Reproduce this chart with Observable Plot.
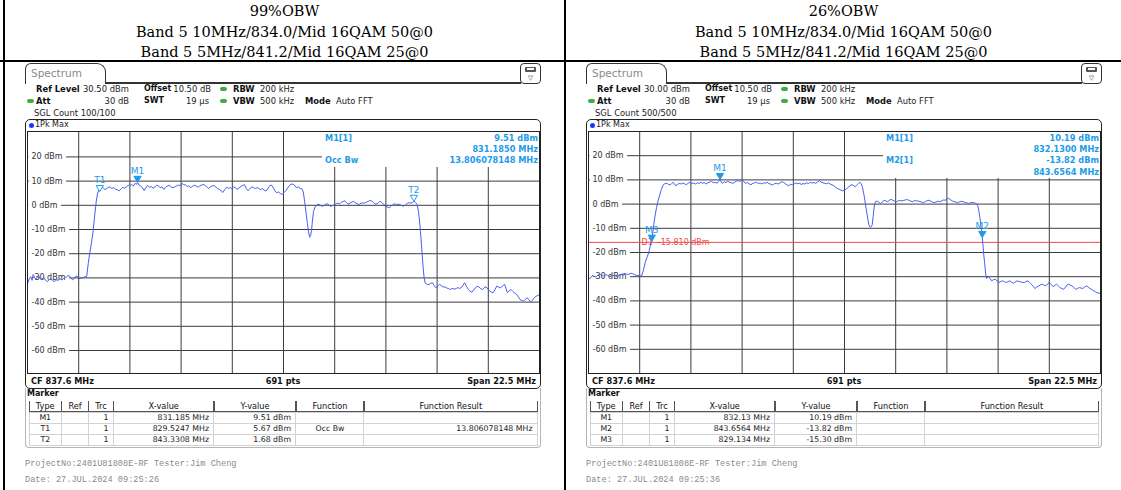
<!DOCTYPE html>
<html><head><meta charset="utf-8">
<script src="https://cdn.jsdelivr.net/npm/d3@7"></script>
<script src="https://cdn.jsdelivr.net/npm/@observablehq/plot@0.6"></script>
<style>
html,body{margin:0;padding:0;background:#fff;}
#page{position:relative;width:1121px;height:490px;overflow:hidden;font-family:"DejaVu Sans",sans-serif;}
.a{position:absolute;white-space:nowrap;box-sizing:border-box;}
</style></head>
<body><div id="page"></div>
<script>
// ---------- data ----------
const titles = ["99%OBW", "26%OBW"];
const subtitle1 = "Band 5 10MHz/834.0/Mid 16QAM 50@0";
const subtitle2 = "Band 5 5MHz/841.2/Mid 16QAM 25@0";
const refLevels = [30.5, 30.0];
const refLevelText = ["30.50 dBm", "30.00 dBm"];
const sglCounts = ["100/100", "500/500"];
const dates = ["Date: 27.JUL.2024  09:25:26", "Date: 27.JUL.2024  09:25:36"];
const projectLine = "ProjectNo:2401U81808E-RF Tester:Jim Cheng";
const freqStart = 826.35, freqStop = 848.85; // CF 837.6 MHz, span 22.5 MHz
const freqGrid = [828.6, 830.85, 833.1, 835.35, 837.6, 839.85, 842.1, 844.35, 846.6];
const levelTicks = [20, 10, 0, -10, -20, -30, -40, -50, -60];

const trace99 = [[826.35,-32.5],[826.42,-30.5],[826.49,-29.5],[826.55,-31.0],[826.6,-28.6],[826.66,-29.8],[826.71,-30.5],[826.78,-29.6],[826.84,-29.0],[826.9,-30.2],[826.96,-30.8],[827.02,-30.0],[827.07,-29.9],[827.15,-31.0],[827.23,-31.5],[827.31,-30.6],[827.39,-30.3],[827.47,-31.2],[827.55,-31.5],[827.62,-30.8],[827.7,-31.0],[827.78,-30.3],[827.86,-30.8],[827.94,-30.2],[828.02,-29.9],[828.1,-29.3],[828.18,-29.0],[828.26,-30.0],[828.33,-30.8],[828.41,-30.2],[828.49,-29.2],[828.57,-29.6],[828.65,-30.4],[828.72,-30.0],[828.8,-29.9],[828.87,-29.5],[828.95,-29.5],[829.02,-24],[829.09,-19.5],[829.16,-15.5],[829.23,-11],[829.3,-4.5],[829.37,1.5],[829.43,5.0],[829.5,6.5],[829.56,8.0],[829.62,7.6],[829.7,7.0],[829.76,6.5],[829.83,6.9],[829.9,7.4],[829.98,7.6],[830.05,7.0],[830.14,7.3],[830.22,6.6],[830.3,6.4],[830.38,6.0],[830.46,6.8],[830.53,7.4],[830.61,7.1],[830.7,7.7],[830.78,8.3],[830.85,8.1],[830.93,8.6],[831.0,8.0],[831.08,9.1],[831.13,8.6],[831.185,9.5],[831.25,8.4],[831.32,8.0],[831.4,7.2],[831.48,6.1],[831.56,7.5],[831.64,8.2],[831.72,7.4],[831.8,7.8],[831.87,7.0],[831.95,7.6],[832.02,8.3],[832.1,8.0],[832.18,7.3],[832.26,7.6],[832.34,6.6],[832.42,7.5],[832.5,8.0],[832.58,8.3],[832.66,7.6],[832.74,7.3],[832.82,7.6],[832.9,8.0],[832.98,8.4],[833.05,8.0],[833.13,9.0],[833.21,8.6],[833.29,8.4],[833.37,7.8],[833.44,8.1],[833.52,7.3],[833.6,7.8],[833.68,8.3],[833.76,8.0],[833.84,7.5],[833.92,8.0],[834.0,8.4],[834.1,8.6],[834.18,8.0],[834.25,7.4],[834.31,7.0],[834.39,7.7],[834.47,8.0],[834.55,8.2],[834.63,7.5],[834.7,7.0],[834.78,6.6],[834.86,6.0],[834.94,5.3],[835.02,6.5],[835.1,7.5],[835.18,7.0],[835.26,7.3],[835.33,6.9],[835.41,7.6],[835.49,7.2],[835.57,6.6],[835.65,7.2],[835.73,7.8],[835.81,8.2],[835.89,8.5],[835.96,7.0],[836.04,6.0],[836.12,6.8],[836.2,7.6],[836.28,7.4],[836.36,6.9],[836.44,7.3],[836.51,7.0],[836.59,6.5],[836.67,6.9],[836.75,6.3],[836.83,5.9],[836.91,6.8],[836.98,7.9],[837.06,8.4],[837.14,7.5],[837.22,6.0],[837.3,5.2],[837.38,5.5],[837.46,4.9],[837.54,4.5],[837.62,5.2],[837.7,6.0],[837.78,7.1],[837.85,8.0],[837.93,8.8],[838.01,8.7],[838.09,8.3],[838.17,7.3],[838.25,7.6],[838.33,7.0],[838.41,6.8],[838.47,5.5],[838.53,1.5],[838.59,-3],[838.65,-7.5],[838.7,-11],[838.75,-13.2],[838.79,-12.5],[838.83,-10.5],[838.87,-6.5],[838.92,-2.5],[838.98,-0.8],[839.03,-0.4],[839.1,0.5],[839.19,0.3],[839.27,-0.4],[839.35,-0.2],[839.43,0.2],[839.5,0.7],[839.58,0.3],[839.66,-0.5],[839.74,-0.1],[839.82,0.0],[839.9,0.6],[839.98,0.9],[840.06,0.6],[840.14,1.2],[840.22,1.6],[840.29,1.9],[840.37,1.0],[840.45,0.5],[840.53,0.9],[840.61,1.4],[840.68,1.6],[840.76,1.0],[840.84,0.6],[840.92,0.3],[841.0,0.8],[841.08,1.0],[841.16,0.9],[841.24,1.3],[841.32,1.6],[841.39,2.0],[841.47,1.8],[841.55,1.2],[841.63,0.5],[841.71,0.6],[841.78,1.2],[841.86,1.6],[841.94,1.0],[842.02,0.2],[842.1,-0.4],[842.18,-0.8],[842.26,-1.0],[842.33,-0.4],[842.41,0.4],[842.49,0.6],[842.57,0.3],[842.65,0.5],[842.73,0.2],[842.81,-0.2],[842.88,-0.4],[842.96,0.2],[843.04,0.8],[843.12,1.1],[843.2,0.9],[843.28,1.2],[843.33,1.7],[843.4,1.2],[843.47,0.4],[843.53,-2.5],[843.58,-6.5],[843.62,-11],[843.66,-16],[843.7,-21],[843.74,-26],[843.78,-30],[843.83,-32.2],[843.91,-32.6],[843.99,-32.8],[844.07,-32.2],[844.15,-32.0],[844.22,-33.2],[844.3,-34.1],[844.38,-33.3],[844.46,-32.7],[844.54,-33.2],[844.62,-33.8],[844.7,-33.7],[844.78,-34.2],[844.85,-34.4],[844.93,-34.8],[845.01,-34.3],[845.09,-34.6],[845.17,-34.5],[845.25,-34.0],[845.33,-34.3],[845.41,-34.1],[845.49,-33.0],[845.56,-32.0],[845.64,-33.5],[845.72,-34.8],[845.8,-35.5],[845.88,-35.9],[845.96,-35.0],[846.03,-34.1],[846.11,-33.5],[846.19,-33.7],[846.27,-34.5],[846.35,-34.8],[846.42,-34.0],[846.5,-33.7],[846.58,-34.6],[846.66,-35.4],[846.74,-35.9],[846.81,-36.1],[846.89,-34.9],[846.97,-33.4],[847.05,-33.8],[847.13,-34.1],[847.21,-33.5],[847.28,-32.9],[847.32,-32.7],[847.38,-34.5],[847.44,-36.1],[847.52,-35.3],[847.6,-34.8],[847.68,-35.6],[847.76,-36.3],[847.84,-36.8],[847.92,-37.8],[847.99,-38.9],[848.07,-39.3],[848.15,-39.6],[848.23,-38.9],[848.31,-38.2],[848.38,-39.0],[848.46,-40.0],[848.54,-39.2],[848.62,-38.2],[848.7,-37.6],[848.78,-37.2],[848.85,-36.8]];

const trace26 = [[826.35,-31.3],[826.39,-31.0],[826.47,-30.0],[826.55,-29.4],[826.63,-30.2],[826.71,-29.9],[826.78,-29.2],[826.86,-29.0],[826.94,-29.6],[827.02,-29.7],[827.1,-29.2],[827.18,-29.4],[827.26,-29.8],[827.34,-29.9],[827.42,-29.5],[827.49,-29.4],[827.57,-29.9],[827.65,-29.7],[827.73,-29.3],[827.81,-29.0],[827.89,-28.8],[827.97,-28.6],[828.05,-29.1],[828.13,-29.0],[828.21,-28.6],[828.28,-28.7],[828.36,-29.1],[828.44,-29.4],[828.52,-29.5],[828.6,-29.7],[828.68,-29.7],[828.76,-27.5],[828.84,-24.1],[828.92,-22],[829.0,-20],[829.06,-17.5],[829.134,-15.3],[829.18,-11.5],[829.23,-7.7],[829.28,-4.5],[829.34,-1.5],[829.4,1.2],[829.47,3.4],[829.55,6.0],[829.63,7.9],[829.7,8.4],[829.78,8.6],[829.86,8.2],[829.94,7.9],[830.0,8.5],[830.07,9.0],[830.13,8.3],[830.18,7.6],[830.26,8.1],[830.34,8.6],[830.42,8.3],[830.5,8.7],[830.57,8.4],[830.65,8.0],[830.73,8.6],[830.81,9.0],[830.89,8.5],[830.97,8.7],[831.05,8.3],[831.13,8.8],[831.2,8.5],[831.28,9.0],[831.36,8.6],[831.44,8.9],[831.52,8.3],[831.6,8.8],[831.68,9.1],[831.76,9.4],[831.84,8.8],[831.92,9.0],[832.0,8.6],[832.06,9.3],[832.13,10.2],[832.18,9.2],[832.23,8.6],[832.31,9.2],[832.39,8.9],[832.47,9.4],[832.55,9.0],[832.63,8.8],[832.71,8.6],[832.79,9.2],[832.86,9.5],[832.94,9.7],[833.02,9.4],[833.1,10.0],[833.18,9.2],[833.26,8.6],[833.34,8.9],[833.41,8.4],[833.49,8.0],[833.57,8.6],[833.65,8.8],[833.73,9.0],[833.81,8.5],[833.89,8.7],[833.97,8.3],[834.04,8.8],[834.12,8.6],[834.2,9.0],[834.28,8.5],[834.36,8.2],[834.44,7.9],[834.52,8.4],[834.6,8.6],[834.68,8.3],[834.76,8.7],[834.84,9.2],[834.92,9.0],[835.0,8.4],[835.07,8.0],[835.15,7.6],[835.23,8.2],[835.31,8.0],[835.39,8.3],[835.47,8.8],[835.55,8.4],[835.63,8.6],[835.7,8.1],[835.78,8.5],[835.86,8.3],[835.94,8.8],[836.02,8.5],[836.1,9.0],[836.18,8.7],[836.26,8.9],[836.34,8.6],[836.42,9.2],[836.5,9.7],[836.57,9.1],[836.65,8.8],[836.73,8.6],[836.81,8.4],[836.89,8.7],[836.97,8.3],[837.05,8.0],[837.13,7.6],[837.2,7.0],[837.28,6.5],[837.36,6.2],[837.44,5.8],[837.52,5.5],[837.6,5.9],[837.68,6.2],[837.76,7.0],[837.84,7.6],[837.92,8.0],[838.0,7.7],[838.07,7.2],[838.15,8.0],[838.22,8.6],[838.28,9.0],[838.34,8.3],[838.39,6.9],[838.45,4.2],[838.5,1.3],[838.55,-1.8],[838.59,-4.2],[838.63,-6.5],[838.67,-8.4],[838.71,-9.4],[838.75,-9.5],[838.79,-9.2],[838.82,-8.4],[838.86,-5],[838.91,-0.8],[838.96,1.0],[839.02,1.3],[839.1,0.8],[839.18,0.2],[839.26,0.9],[839.34,1.6],[839.42,1.3],[839.5,1.0],[839.58,1.6],[839.65,2.0],[839.73,1.5],[839.81,1.2],[839.89,1.0],[839.97,1.4],[840.05,1.5],[840.13,1.3],[840.21,1.6],[840.28,1.7],[840.36,1.9],[840.44,1.5],[840.52,1.2],[840.6,1.0],[840.68,1.5],[840.76,1.3],[840.84,1.3],[840.92,1.0],[841.0,0.8],[841.07,0.6],[841.15,1.0],[841.23,1.4],[841.31,1.6],[841.39,1.2],[841.47,0.8],[841.55,0.6],[841.63,0.9],[841.7,1.2],[841.78,1.0],[841.86,1.3],[841.94,1.7],[842.02,1.6],[842.1,2.0],[842.18,2.4],[842.26,1.8],[842.34,1.3],[842.42,1.0],[842.5,0.8],[842.57,0.6],[842.65,0.9],[842.73,1.2],[842.81,1.0],[842.89,0.7],[842.97,0.5],[843.05,0.3],[843.13,0.5],[843.2,0.7],[843.28,0.6],[843.36,0.3],[843.44,-0.1],[843.5,-2.5],[843.55,-5.6],[843.6,-9.5],[843.6564,-13.8],[843.69,-17.5],[843.72,-21],[843.76,-24.5],[843.8,-28.5],[843.84,-30.8],[843.92,-29.9],[844.0,-30.8],[844.07,-31.7],[844.15,-31.2],[844.23,-31.0],[844.31,-31.8],[844.39,-32.4],[844.47,-32.0],[844.55,-31.7],[844.63,-32.1],[844.71,-32.4],[844.79,-32.0],[844.87,-31.7],[844.95,-32.3],[845.02,-32.7],[845.1,-32.2],[845.18,-31.7],[845.26,-32.0],[845.34,-32.1],[845.42,-32.4],[845.5,-32.4],[845.58,-32.0],[845.66,-31.7],[845.74,-32.4],[845.81,-33.1],[845.89,-34.0],[845.97,-34.9],[846.05,-34.3],[846.13,-33.8],[846.21,-33.4],[846.29,-33.1],[846.37,-33.5],[846.44,-33.8],[846.52,-33.0],[846.6,-32.4],[846.68,-33.2],[846.76,-34.1],[846.84,-33.6],[846.92,-33.1],[847.0,-33.8],[847.07,-34.5],[847.15,-34.9],[847.23,-35.2],[847.31,-34.3],[847.38,-33.4],[847.44,-33.1],[847.52,-33.5],[847.6,-33.8],[847.68,-34.5],[847.76,-35.2],[847.84,-34.9],[847.92,-34.5],[848.0,-34.7],[848.07,-34.9],[848.15,-34.3],[848.23,-33.8],[848.31,-34.3],[848.39,-34.9],[848.47,-35.3],[848.55,-35.8],[848.62,-36.2],[848.7,-36.6],[848.78,-36.8],[848.85,-36.9]];

const markers99 = [
  {name: "T1", f: 829.5247, d: 5.67, hollow: true},
  {name: "M1", f: 831.185, d: 9.51, hollow: false},
  {name: "T2", f: 843.3308, d: 1.68, hollow: true}
];
const markers26 = [
  {name: "M3", f: 829.134, d: -15.30, hollow: false},
  {name: "M1", f: 832.13, d: 10.19, hollow: false},
  {name: "M2", f: 843.6564, d: -13.82, hollow: false}
];
const displayLine26 = {level: -15.81, label: "D1  -15.810 dBm"};

const info99 = [["M1[1]", "9.51 dBm"], ["", "831.1850 MHz"], ["Occ Bw", "13.806078148 MHz"]];
const info26 = [["M1[1]", "10.19 dBm"], ["", "832.1300 MHz"], ["M2[1]", "-13.82 dBm"], ["", "843.6564 MHz"]];

const tableHeader = ["Type", "Ref", "Trc", "X-value", "Y-value", "Function", "Function Result"];
const table99 = [
  ["M1", "", "1", "831.185 MHz", "9.51 dBm", "", ""],
  ["T1", "", "1", "829.5247 MHz", "5.67 dBm", "Occ Bw", "13.806078148 MHz"],
  ["T2", "", "1", "843.3308 MHz", "1.68 dBm", "", ""]
];
const table26 = [
  ["M1", "", "1", "832.13 MHz", "10.19 dBm", "", ""],
  ["M2", "", "1", "843.6564 MHz", "-13.82 dBm", "", ""],
  ["M3", "", "1", "829.134 MHz", "-15.30 dBm", "", ""]
];

// ---------- layout helpers ----------
const page = document.getElementById("page");
function box(css) { const d = document.createElement("div"); d.className = "a"; for (const k in css) d.style[k] = typeof css[k] === "number" ? css[k] + "px" : css[k]; page.appendChild(d); return d; }
function label(x, yc, s, o = {}) {
  const fs = o.fs || 8.4, lh = 12;
  const css = {top: yc - lh / 2, lineHeight: lh + "px", fontSize: fs + "px", color: o.color || "#222",
    fontWeight: o.bold ? "bold" : "normal", fontFamily: o.font || '"DejaVu Sans", sans-serif'};
  if (o.align === "right") { css.left = x - 300; css.width = 300; css.textAlign = "right"; }
  else if (o.align === "center") { css.left = x - 150; css.width = 300; css.textAlign = "center"; }
  else css.left = x;
  const d = box(css); d.textContent = s; return d;
}
const markerBlue = "#1d9be9";
const triDown = {draw(ctx) { ctx.moveTo(-3.6, -6); ctx.lineTo(3.6, -6); ctx.lineTo(0, 0); ctx.closePath(); }};

// ---------- outer table ----------
box({left: 0, top: 60, width: 1121, height: 2, background: "#000"});
box({left: 3, top: 0, width: 2, height: 490, background: "#000"});
box({left: 564, top: 0, width: 2, height: 490, background: "#000"});
[284.5, 843.5].forEach((cx, i) => {
  const o = {fs: 14.5, font: '"DejaVu Serif", serif', color: "#000", align: "center"};
  label(cx, 11, titles[i], o);
  label(cx, 31.5, subtitle1, o);
  label(cx, 51.5, subtitle2, o);
});

// ---------- one analyzer panel ----------
function spectrum(trace, markers, ref, dl) {
  const marks = [
    Plot.ruleY(levelTicks, {stroke: "#3c3c3c", strokeWidth: 1}),
    Plot.ruleX(freqGrid, {stroke: "#3c3c3c", strokeWidth: 1}),
    Plot.text(levelTicks, {y: d => d, frameAnchor: "left", dx: 4, text: d => `${d} dBm`, textAnchor: "start",
      fontSize: 8, fill: "#333", stroke: "white", strokeWidth: 8})
  ];
  if (dl) marks.push(
    Plot.ruleY([dl.level], {stroke: "#f04a4a", strokeWidth: 1}),
    Plot.text([dl], {y: "level", frameAnchor: "left", dx: 53, text: "label", textAnchor: "start", fill: "#f04a4a", fontSize: 8})
  );
  marks.push(
    Plot.line(trace, {x: d => d[0], y: d => d[1], stroke: "#4b5cf2", strokeWidth: 1, clip: true}),
    Plot.dot(markers.filter(m => m.hollow), {x: "f", y: "d", symbol: triDown, fill: "white", stroke: markerBlue, strokeWidth: 1}),
    Plot.dot(markers.filter(m => !m.hollow), {x: "f", y: "d", symbol: triDown, fill: markerBlue, stroke: markerBlue, strokeWidth: 1}),
    Plot.text(markers, {x: "f", y: "d", text: "name", dy: -11, fill: markerBlue, fontSize: 9}),
    Plot.frame({stroke: "#222"})
  );
  return Plot.plot({
    width: 514, height: 244, marginLeft: 1, marginRight: 1, marginTop: 1, marginBottom: 1,
    x: {domain: [freqStart, freqStop], axis: null},
    y: {domain: [ref - 100, ref], axis: null},
    style: {background: "transparent", fontFamily: '"DejaVu Sans", sans-serif', overflow: "visible"},
    marks
  });
}

function panel(i, ox, trace, markers, info, infoH, rows, dl) {
  // tab + icon
  box({left: ox + 25, top: 63, width: 81, height: 21, border: "1.5px solid #333", borderBottom: "none", borderRadius: "6px 9px 0 0"});
  label(ox + 31, 73, "Spectrum", {fs: 10.5, color: "#8a8a8a"});
  box({left: ox + 105, top: 82, width: 416, height: 1.5, background: "#333"});
  box({left: ox + 520, top: 63, width: 21, height: 20.5, border: "1.5px solid #333", borderRadius: "4px", background: "#fff"});
  box({left: ox + 525, top: 66.5, width: 11, height: 5, background: "#555", borderRadius: "1px"});
  box({left: ox + 527, top: 68, width: 7, height: 2, background: "#fff", opacity: 0.8});
  label(ox + 530.5, 77.5, "▽", {fs: 6.5, color: "#333", align: "center"});
  // settings
  const pill = (x, yc) => box({left: ox + x, top: yc - 2, width: 7, height: 4, background: "#3fae3f", borderRadius: "2px"});
  label(ox + 36, 89, "Ref Level", {bold: true, color: "#111"});
  label(ox + 83, 89, refLevelText[i]);
  label(ox + 144, 89, "Offset", {bold: true, color: "#111", fs: 8});
  label(ox + 211, 89, "10.50 dB", {align: "right"});
  pill(220, 89);
  label(ox + 233, 89, "RBW", {bold: true, color: "#111"});
  label(ox + 260, 89, "200 kHz");
  pill(27, 101);
  label(ox + 36, 101, "Att", {bold: true, color: "#111"});
  label(ox + 129, 101, "30 dB", {align: "right"});
  label(ox + 144, 101, "SWT", {bold: true, color: "#111", fs: 8});
  label(ox + 209, 101, "19 µs", {align: "right"});
  pill(220, 101);
  label(ox + 233, 101, "VBW", {bold: true, color: "#111"});
  label(ox + 260, 101, "500 kHz");
  label(ox + 305, 101, "Mode", {bold: true, color: "#111"});
  label(ox + 336, 101, "Auto FFT");
  label(ox + 34, 113, "SGL Count " + sglCounts[i]);
  // diagram box
  box({left: ox + 25, top: 119, width: 516, height: 270, border: "1.5px solid #222", borderRadius: "5px"});
  box({left: ox + 29, top: 122.5, width: 5, height: 5, background: "#1637ff", borderRadius: "50%"});
  label(ox + 35, 125, "1Pk Max", {fs: 8});
  const holder = box({left: ox + 26, top: 130, width: 514, height: 244});
  holder.appendChild(spectrum(trace, markers, refLevels[i], dl));
  // marker info box (covers grid)
  box({left: ox + 322, top: 132, width: 217, height: infoH, background: "#fff"});
  info.forEach(([l, r], k) => {
    const yc = 137.5 + k * 11.4;
    if (l) label(ox + 325, yc, l, {bold: true, color: markerBlue, fs: 8.2});
    label(ox + 538, yc, r, {bold: true, color: markerBlue, fs: 8.2, align: "right"});
  });
  // CF bar
  label(ox + 31, 381, "CF 837.6 MHz", {bold: true, fs: 8.2, color: "#111"});
  label(ox + 283, 381, "691 pts", {bold: true, fs: 8.2, color: "#111", align: "center"});
  label(ox + 536, 381, "Span 22.5 MHz", {bold: true, fs: 8.2, color: "#111", align: "right"});
  // marker table
  box({left: ox + 25, top: 388, width: 516, height: 60, border: "1px solid #b5b5b5", borderTop: "none", borderRadius: "0 0 4px 4px"});
  label(ox + 27, 394, "Marker", {bold: true, fs: 8, color: "#111"});
  const cols = [29, 61.5, 88.5, 113.5, 214, 296, 364, 537.5];
  const aligns = ["center", "center", "right", "right", "right", "center", "right"];
  const top0 = 400.5, hh = 11.5, rh = 11;
  box({left: ox + cols[0], top: top0, width: cols[7] - cols[0], height: hh, borderBottom: "1.5px solid #555", borderLeft: "1.5px solid #555"});
  tableHeader.forEach((h, c) => {
    box({left: ox + cols[c + 1] - 1, top: top0, width: 1.5, height: hh, background: "#555"});
    label(ox + (cols[c] + cols[c + 1]) / 2, top0 + hh / 2, h, {fs: 8.2, color: "#111", align: "center"});
  });
  rows.forEach((row, r) => {
    const y0 = top0 + hh + r * rh;
    box({left: ox + cols[0], top: y0, width: cols[7] - cols[0], height: rh + 1, border: "1px solid #d2d2d2"});
    row.forEach((v, c) => {
      box({left: ox + cols[c + 1] - 1, top: y0, width: 1, height: rh, background: "#d2d2d2"});
      if (!v) return;
      const a = aligns[c];
      const x = a === "center" ? (cols[c] + cols[c + 1]) / 2 : cols[c + 1] - 5;
      label(ox + x, y0 + rh / 2 + 0.5, v, {fs: 7.8, color: "#222", align: a});
    });
  });
  // footer
  const mono = {font: '"Liberation Mono", monospace', fs: 8.6, color: "#8a8a8a"};
  label(ox + 25, 463.5, projectLine, mono);
  label(ox + 25, 479.5, dates[i], mono);
}

panel(0, 0, trace99, markers99, info99, 35, table99, null);
panel(1, 561, trace26, markers26, info26, 46, table26, displayLine26);
</script>
</body></html>
